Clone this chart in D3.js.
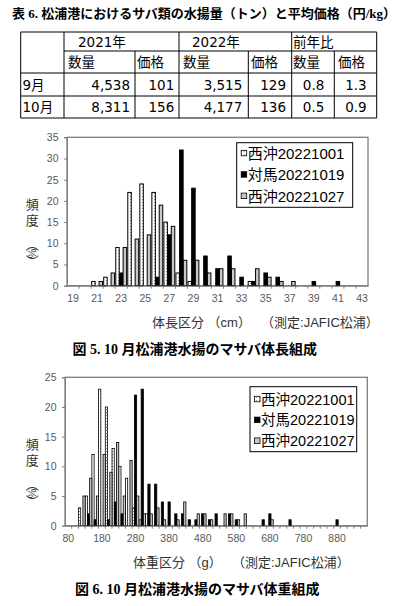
<!DOCTYPE html>
<html>
<head>
<meta charset="utf-8">
<script src="https://cdn.jsdelivr.net/npm/d3@7"></script>
<style>
body { margin: 0; background: #fff; }
svg text { font-family: "Liberation Sans", "Noto Sans CJK JP", sans-serif; }
</style>
</head>
<body>
<div id="chart"></div>
<script>
// table 6 data
var tblYears = ["2021年", "2022年", "前年比"];
var tblSub = ["数量", "価格"];
var tblMonths = ["9月", "10月"];
var tblRows = [[4538, 101, 3515, 129, 0.8, 1.3],
               [8311, 156, 4177, 136, 0.5, 0.9]];

var seriesNames = ["西沖20221001", "対馬20221019", "西沖20221027"];

// fig 5: body length (cm)
var lenBins = [19, 20, 21, 22, 23, 24, 25, 26, 27, 28, 29, 30, 31, 32, 33, 34, 35, 36, 37, 38, 39, 40, 41, 42, 43];
var lenTicks = [19, 21, 23, 25, 27, 29, 31, 33, 35, 37, 39, 41, 43];
var lenS1 = [0, 0, 1, 2, 9, 22, 24, 22, 15, 3, 1, 0, 0, 0, 0, 1, 0, 0, 0, 0, 0, 0, 0, 0, 0];
var lenS2 = [0, 0, 0, 0, 3, 0, 0, 2, 12, 32, 23, 7, 4, 7, 2, 1, 3, 2, 0, 0, 1, 0, 1, 0, 0];
var lenS3 = [0, 0, 1, 3, 9, 11, 12, 19, 14, 6, 6, 3, 4, 4, 0, 4, 2, 1, 1, 0, 0, 0, 0, 0, 0];
var lenYTicks = [0, 5, 10, 15, 20, 25, 30, 35];

// fig 6: body weight (g)
var wtBins = [80, 100, 120, 140, 160, 180, 200, 220, 240, 260, 280, 300, 320, 340, 360, 380, 400, 420, 440, 460,
              480, 500, 520, 540, 560, 580, 600, 620, 640, 660, 680, 700, 720, 740, 760, 780, 800, 820, 840, 860,
              880, 900, 920, 940, 960];
var wtTicks = [80, 180, 280, 380, 480, 580, 680, 780, 880];
var wtS1 = [0, 0, 3, 5, 12, 23, 20, 13, 10, 8, 3, 1, 2, 0, 0, 0, 0, 0, 0, 0,
            0, 0, 0, 0, 0, 0, 0, 0, 0, 0, 0, 0, 0, 0, 0, 0, 0, 0, 0, 0,
            0, 0, 0, 0, 0];
var wtS2 = [0, 0, 0, 2, 1, 0, 1, 4, 2, 0, 22, 23, 7, 7, 4, 4, 2, 2, 1, 1,
            2, 1, 2, 0, 2, 1, 0, 0, 0, 1, 2, 0, 0, 1, 0, 0, 0, 0, 0, 0,
            1, 0, 0, 0, 0];
var wtS3 = [0, 0, 5, 8, 5, 12, 9, 14, 5, 11, 5, 2, 2, 3, 1, 0, 1, 4, 0, 2,
            2, 1, 0, 2, 2, 1, 2, 0, 0, 0, 1, 0, 0, 0, 0, 0, 0, 0, 0, 0,
            0, 0, 0, 0, 0];
var wtYTicks = [0, 5, 10, 15, 20, 25];

var W = 398, H = 606;
var svg = d3.select("#chart").append("svg").attr("width", W).attr("height", H);
svg.append("rect").attr("width", W).attr("height", H).attr("fill", "#fff");

// dotted fill for 西沖20221001
var defs = svg.append("defs");
var pat = defs.append("pattern").attr("id", "dots")
    .attr("width", 3).attr("height", 3).attr("patternUnits", "userSpaceOnUse");
pat.append("rect").attr("width", 3).attr("height", 3).attr("fill", "#fff");
pat.append("rect").attr("x", 1).attr("y", 1).attr("width", 1).attr("height", 1).attr("fill", "#8c8c8c");
var fills = ["url(#dots)", "#000", "#c8c8c8"];

// ---- title
svg.append("text").attr("x", 12).attr("y", 17.5)
    .style("font-family", "'Liberation Serif','Noto Sans CJK JP'")
    .style("font-weight", "bold").style("font-size", "13px")
    .text("表 6. 松浦港におけるサバ類の水揚量（トン）と平均価格（円/kg）");

// ---- table
var tx = [20.7, 64, 135, 179, 248.3, 291.7, 334.3, 376.7];
var ty = [32, 51, 73, 96, 118];
var tg = svg.append("g").attr("stroke", "#000").attr("stroke-width", 1);
function ln(x1, y1, x2, y2) { tg.append("line").attr("x1", x1).attr("y1", y1).attr("x2", x2).attr("y2", y2); }
ln(tx[0], ty[0], tx[7], ty[0]);
ln(tx[1], ty[1], tx[7], ty[1]);
ln(tx[0], ty[2], tx[7], ty[2]);
ln(tx[0], ty[3], tx[7], ty[3]);
ln(tx[0], ty[4], tx[7], ty[4]);
[0, 1, 3, 5, 7].forEach(function (i) { ln(tx[i], ty[0], tx[i], ty[4]); });
[2, 4, 6].forEach(function (i) { ln(tx[i], ty[1], tx[i], ty[4]); });

var tfont = "'DejaVu Sans','Noto Sans CJK JP'";
tblYears.forEach(function (t, i) {
    svg.append("text").attr("x", [78, 192, 293][i]).attr("y", 46.5)
        .style("font-family", tfont).style("font-size", "13.5px").text(t);
});
[68, 137, 183, 251, 293, 338].forEach(function (x, i) {
    svg.append("text").attr("x", x).attr("y", 67)
        .style("font-family", tfont).style("font-size", "13.5px").text(tblSub[i % 2]);
});
var rEnd = [130, 174.3, 242.3, 286, 324.3, 366.7];
var fmtQ = d3.format(","), fmtR = d3.format(".1f");
tblMonths.forEach(function (m, r) {
    var yb = [90, 112][r];
    svg.append("text").attr("x", 22.5).attr("y", yb)
        .style("font-family", tfont).style("font-size", "13.5px").text(m);
    tblRows[r].forEach(function (v, c) {
        svg.append("text").attr("x", rEnd[c]).attr("y", yb).attr("text-anchor", "end")
            .style("font-family", tfont).style("font-size", "13.5px")
            .text(c >= 4 ? fmtR(v) : fmtQ(v));
    });
});

// ---- histogram
function hist(o) {
    var g = svg.append("g");
    var x = d3.scaleBand().domain(o.bins).range([o.left, o.right]);
    var sub = d3.scaleBand().domain([0, 1, 2]).range([o.inset, x.bandwidth() - o.inset]).padding(o.pad);
    var y = d3.scaleLinear().domain([0, o.ymax]).range([o.bottom, o.top]);

    // frame
    g.append("rect").attr("x", o.left).attr("y", o.top)
        .attr("width", o.right - o.left).attr("height", o.bottom - o.top)
        .attr("fill", "none").attr("stroke", "#7f7f7f").attr("stroke-width", 1.3);

    // bars
    o.series.forEach(function (s, si) {
        var rows = s.map(function (v, i) { return { bin: o.bins[i], v: v }; })
            .filter(function (d) { return d.v > 0; });
        g.selectAll(null).data(rows).enter().append("rect")
            .attr("x", function (d) { return x(d.bin) + sub(si); })
            .attr("width", sub.bandwidth())
            .attr("y", function (d) { return y(d.v); })
            .attr("height", function (d) { return y(0) - y(d.v); })
            .attr("fill", fills[si])
            .attr("stroke", "#000").attr("stroke-width", o.sw);
    });

    // y axis
    var ya = g.append("g").attr("transform", "translate(" + o.left + ",0)")
        .call(d3.axisLeft(y).tickValues(o.yticks).tickSize(3).tickPadding(5.5));
    ya.select(".domain").attr("stroke", "#7f7f7f");
    ya.selectAll(".tick line").attr("stroke", "#7f7f7f");
    ya.selectAll("text").attr("fill", "#595959").style("font-size", "10.5px")
        .style("font-family", "'Liberation Sans'");

    // x axis: labels at centres, tick marks at bin boundaries
    var xa = g.append("g").attr("transform", "translate(0," + o.bottom + ")")
        .call(d3.axisBottom(x).tickValues(o.xticks).tickSize(0).tickPadding(o.xpad));
    xa.select(".domain").attr("stroke", "#7f7f7f");
    xa.selectAll("text").attr("fill", "#595959").style("font-size", "10.5px")
        .style("font-family", "'Liberation Sans'");
    g.selectAll(null).data(o.bins.slice(1)).enter().append("line")
        .attr("x1", function (d) { return x(d); }).attr("x2", function (d) { return x(d); })
        .attr("y1", o.bottom).attr("y2", o.bottom + 3)
        .attr("stroke", "#7f7f7f");

    // y title (vertical)
    var yt = g.append("g").attr("fill", "#333").style("font-size", "13px")
        .style("font-family", "'Noto Sans CJK JP'").attr("text-anchor", "middle");
    [["頻", 67], ["度", 83], ["︵", 107], ["%", 116], ["︶", 124.5]].forEach(function (c) {
        var t = yt.append("text").attr("x", 32.3).attr("y", o.top + c[1]).attr("dy", "0.35em").text(c[0]);
        if (c[0] === "%") {
            t.attr("x", null).attr("y", null)
                .attr("transform", "translate(32.3," + (o.top + c[1]) + ") rotate(90)")
                .style("font-size", "11px");
        }
    });

    // x title
    g.append("text").attr("x", o.xtX).attr("y", o.bottom + 36.5).attr("dy", "0.35em")
        .attr("fill", "#333").style("font-size", "13px").text(o.xtitle);

    // caption
    g.append("text").attr("x", o.capX).attr("y", o.bottom + 63.5).attr("dy", "0.35em")
        .style("font-family", "'Liberation Serif','Noto Sans CJK JP'")
        .style("font-weight", "bold").style("font-size", "14px").text(o.caption);

    // legend
    var L = o.legend;
    g.append("rect").attr("x", L.x).attr("y", L.y).attr("width", L.w).attr("height", L.h)
        .attr("fill", "#fff").attr("stroke", "#000").attr("stroke-width", 1);
    seriesNames.forEach(function (n, i) {
        var cy = L.y + L.first + i * L.step;
        g.append("rect").attr("x", L.x + 4.5).attr("y", cy - 3).attr("width", 5.5).attr("height", 5.5)
            .attr("fill", fills[i]).attr("stroke", "#000").attr("stroke-width", 0.8);
        g.append("text").attr("x", L.x + 11).attr("y", cy).attr("dy", "0.36em")
            .style("font-size", L.fs + "px").text(n);
    });
}

hist({
    bins: lenBins, xticks: lenTicks, series: [lenS1, lenS2, lenS3],
    left: 67, right: 368, top: 137.3, bottom: 285.7, ymax: 35, yticks: lenYTicks,
    inset: 0.4, pad: 0.05, sw: 1, xpad: 8.5,
    xtitle: "体長区分 （cm） 　（測定:JAFIC松浦）", xtX: 152,
    caption: "図 5.  10 月松浦港水揚のマサバ体長組成", capX: 72.5,
    legend: { x: 236.7, y: 142.7, w: 116, h: 64.6, first: 10.6, step: 21.4, fs: 15 }
});

hist({
    bins: wtBins, xticks: wtTicks, series: [wtS1, wtS2, wtS3],
    left: 65, right: 367.3, top: 377.3, bottom: 525.7, ymax: 25, yticks: wtYTicks,
    inset: 0, pad: 0, sw: 0.8, xpad: 8.6,
    xtitle: "体重区分 （g） 　（測定:JAFIC松浦）", xtX: 133,
    caption: "図 6. 10 月松浦港水揚のマサバ体重組成", capX: 75,
    legend: { x: 250, y: 386.7, w: 106.7, h: 65, first: 12.6, step: 20.8, fs: 14.5 }
});
</script>
</body>
</html>
